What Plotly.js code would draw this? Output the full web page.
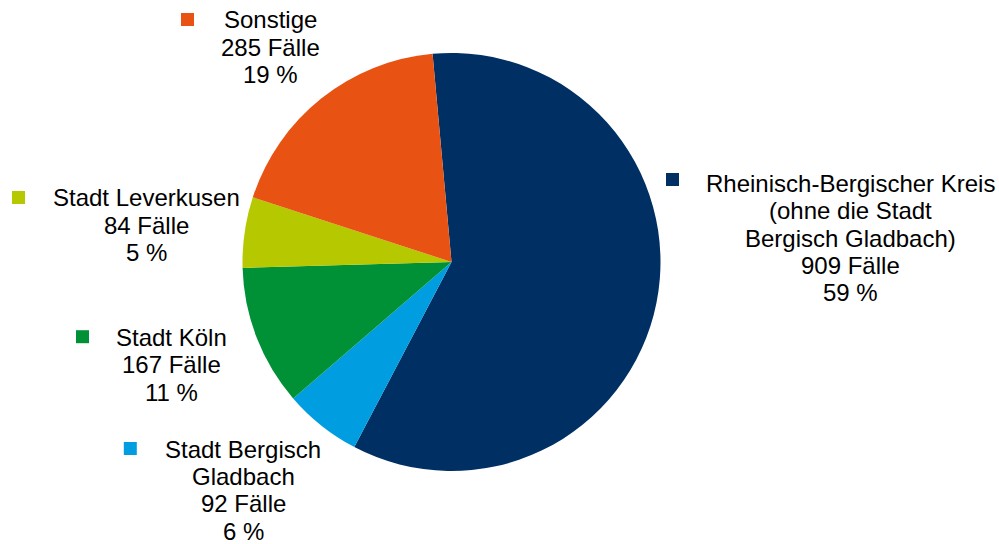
<!DOCTYPE html>
<html>
<head>
<meta charset="utf-8">
<script src="https://cdn.plot.ly/plotly-3.0.1.min.js"></script>
<style>
html,body{margin:0;padding:0;background:#fff;}
#chart{width:999px;height:544px;}
</style>
</head>
<body>
<div id="chart"></div>
<script>
// Data
const categories = [
  "Rheinisch-Bergischer Kreis (ohne die Stadt Bergisch Gladbach)",
  "Stadt Bergisch Gladbach",
  "Stadt Köln",
  "Stadt Leverkusen",
  "Sonstige"
];
const labelLines = [
  ["Rheinisch-Bergischer Kreis", "(ohne die Stadt", "Bergisch Gladbach)"],
  ["Stadt Bergisch", "Gladbach"],
  ["Stadt Köln"],
  ["Stadt Leverkusen"],
  ["Sonstige"]
];
const cases = [909, 92, 167, 84, 285];
const colors = ["#003063", "#009EE0", "#009036", "#B5C800", "#E85314"];

// Layout (pixel positions of the external labels)
const W = 999, H = 544;
const labelPos = [
  {sq: [672.5, 179.5], cx: 850, base: 191.7},
  {sq: [130.3, 448.5], cx: 243, base: 457.5},
  {sq: [82.5, 336.7], cx: 171.7, base: 345.7},
  {sq: [18.5, 197.5], cx: 146, base: 206.0},
  {sq: [187.5, 19.5], cx: 270, base: 28.3}
];
const lineGap = 27.3, sqSize = 13, fontSize = 24;

const total = cases.reduce((a, b) => a + b, 0);
const pct = cases.map(v => Math.round(v / total * 100));

const cx = 451.5, cy = 262, r = 209;
const trace = {
  type: 'pie',
  values: cases,
  labels: categories,
  marker: {colors: colors, line: {width: 0}},
  sort: false,
  direction: 'clockwise',
  rotation: -5.2,
  textinfo: 'none',
  hoverinfo: 'none',
  showlegend: false,
  domain: {
    x: [(cx - r) / W, (cx + r) / W],
    y: [1 - (cy + r) / H, 1 - (cy - r) / H]
  }
};

const annotations = [];
const shapes = [];
categories.forEach((c, i) => {
  const p = labelPos[i];
  const lines = labelLines[i].concat([cases[i] + " Fälle", pct[i] + " %"]);
  lines.forEach((t, k) => {
    const base = p.base + k * lineGap;
    annotations.push({
      xref: 'paper', yref: 'paper',
      x: p.cx / W, y: 1 - (base - 8.3) / H,
      xanchor: 'center', yanchor: 'middle',
      text: t, showarrow: false,
      font: {family: 'Liberation Sans, Arial, sans-serif', size: fontSize, color: '#000'}
    });
  });
  shapes.push({
    type: 'rect', xref: 'paper', yref: 'paper',
    x0: (p.sq[0] - sqSize / 2) / W, x1: (p.sq[0] + sqSize / 2) / W,
    y0: 1 - (p.sq[1] + sqSize / 2) / H, y1: 1 - (p.sq[1] - sqSize / 2) / H,
    fillcolor: colors[i], line: {width: 0}
  });
});

Plotly.newPlot('chart', [trace], {
  width: W, height: H,
  margin: {l: 0, r: 0, t: 0, b: 0},
  paper_bgcolor: '#fff',
  showlegend: false,
  annotations: annotations,
  shapes: shapes
}, {staticPlot: true, displayModeBar: false});
</script>
</body>
</html>
